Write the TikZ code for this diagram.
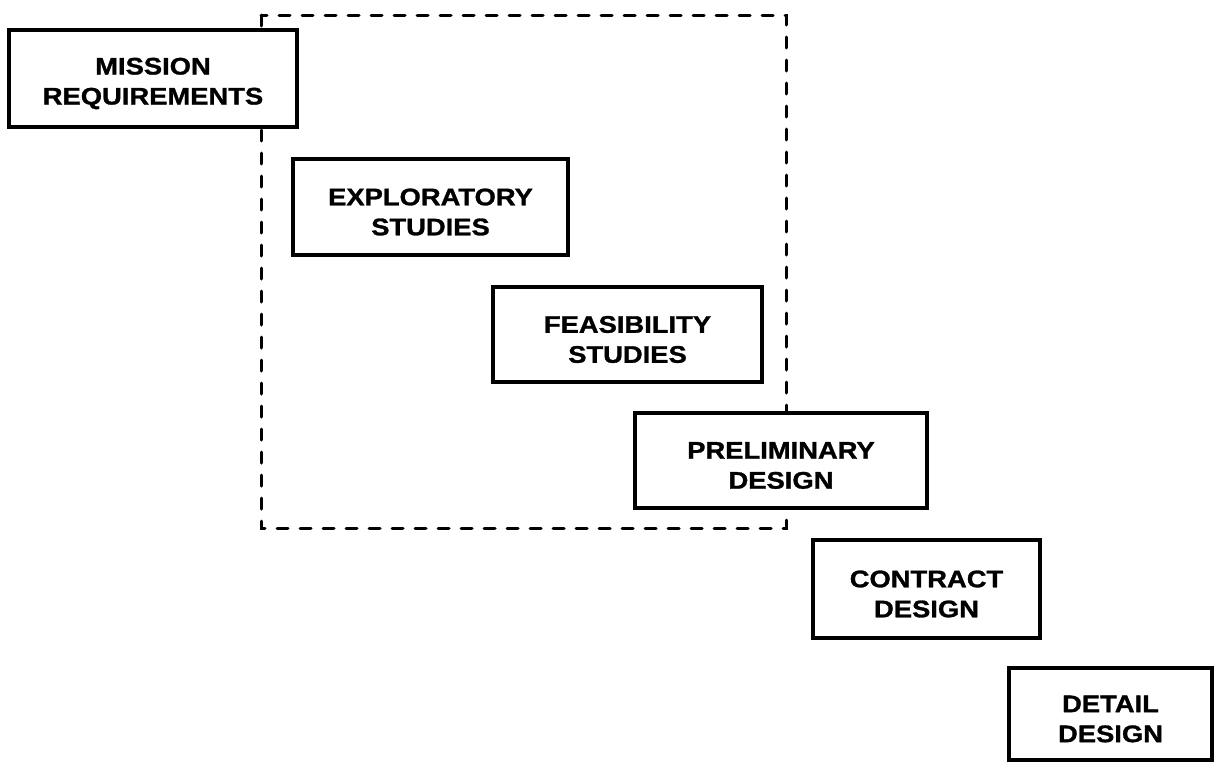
\documentclass[tikz,border=0pt]{standalone}
\usepackage{fontspec}
\setmainfont{Liberation Sans}[FakeStretch=1.14,BoldFeatures={FakeBold=1.2}]
\begin{document}
\begin{tikzpicture}[x=1pt,y=-1pt,
  stage/.style={draw,line width=3.4pt,fill=white,inner sep=0pt},
  lbl/.style={align=center,yshift=-5pt,font=\fontsize{24}{30}\selectfont\bfseries},
  frame/.style={line width=3pt,dash pattern=on 11pt off 12pt,line cap=round}]
  \useasboundingbox (0,0) rectangle (1217,763);
  % dashed envelope of the early phases
  \coordinate (fr1) at (261,15); \coordinate (fr2) at (786,528);
  \draw[frame] (fr1) rectangle (fr2);
  \node[stage,minimum width=288pt,minimum height=97pt,label={[lbl]center:MISSION\\REQUIREMENTS}] (mission) at (153,78.5) {};
  \node[stage,minimum width=275pt,minimum height=96pt,label={[lbl]center:EXPLORATORY\\STUDIES}] (explor) at (430.5,207) {};
  \node[stage,minimum width=269pt,minimum height=95pt,label={[lbl]center:FEASIBILITY\\STUDIES}] (feas) at (627.5,334.5) {};
  \node[stage,minimum width=292pt,minimum height=95pt,label={[lbl]center:PRELIMINARY\\DESIGN}] (prelim) at (781,460.5) {};
  \node[stage,minimum width=227pt,minimum height=98pt,label={[lbl]center:CONTRACT\\DESIGN}] (contract) at (926.5,589) {};
  \node[stage,minimum width=203pt,minimum height=92pt,label={[lbl]center:DETAIL\\DESIGN}] (detail) at (1110.5,714) {};
\end{tikzpicture}
\end{document}
